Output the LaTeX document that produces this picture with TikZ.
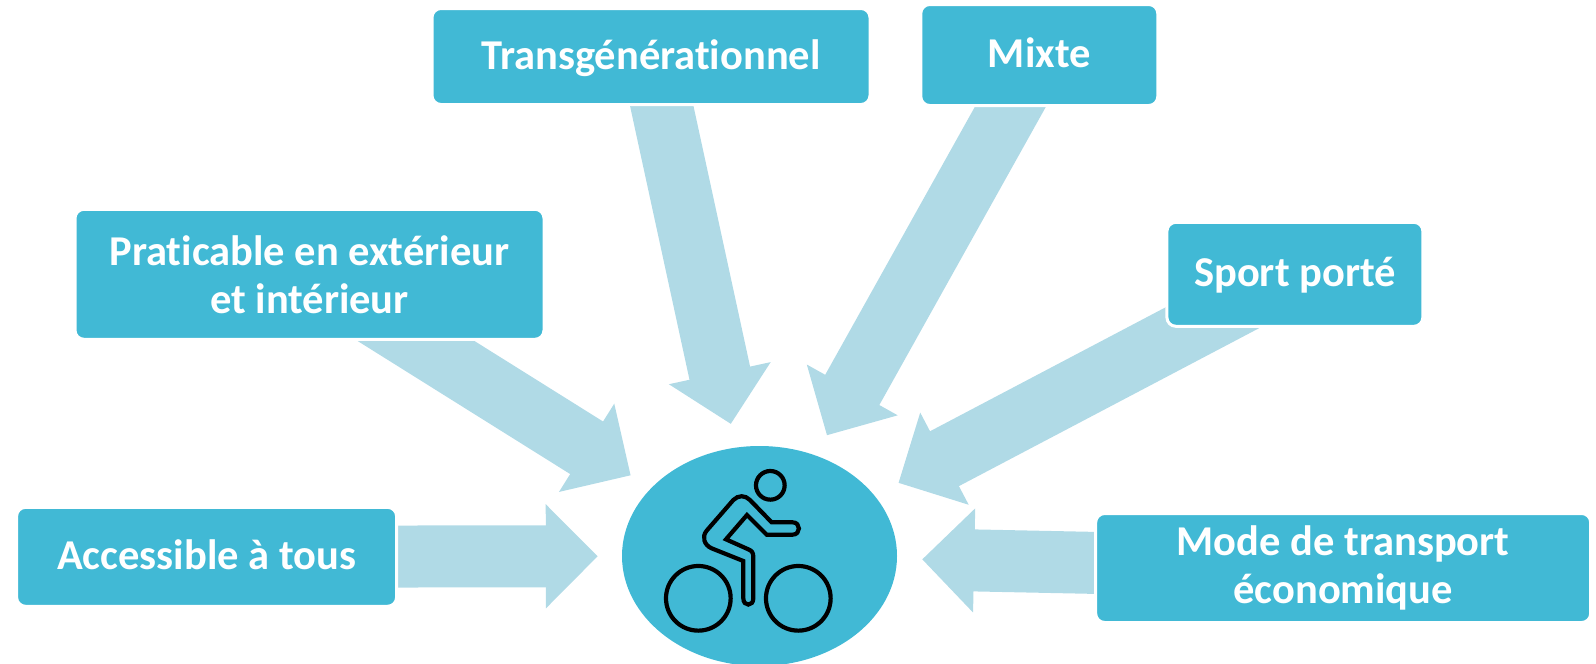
\documentclass[tikz,border=0pt]{standalone}
\usepackage{fontspec}
\setmainfont[Ligatures=NoCommon]{Carlito}
\usetikzlibrary{shapes.geometric,arrows.meta,backgrounds}

\definecolor{boxblau}{HTML}{41B9D5}
\definecolor{pfeilblau}{HTML}{B0DAE6}

\tikzset{
    kasten/.style={rectangle, rounded corners=9pt, fill=boxblau, draw=white, line width=3pt,
        text=white, align=center, inner sep=0pt, font=\bfseries\fontsize{42.5}{48}\selectfont},
    einzeilig/.style={kasten, text height=33pt, text depth=8pt},
    blockpfeil/.style={draw=pfeilblau, line width=62pt, shorten >=24pt,
        -{Triangle[length=52pt,width=101pt,fill=pfeilblau]}}
}

\begin{document}
\begin{tikzpicture}[x=1pt, y=-1pt]
    \useasboundingbox (0,0) rectangle (1596,664);

    % --- Mitte ---
    \node[ellipse, fill=boxblau, inner sep=0pt, minimum width=275pt, minimum height=220pt] (velo) at (759.5,556) {};

    % --- Kaesten ---
    \node[einzeilig, minimum width=438pt, minimum height=96pt] (trans) at (651,56.5) {Transgénérationnel};
    \node[einzeilig, minimum width=237pt, minimum height=101pt] (mixte) at (1039.3,55) {Mixte};
    \node[kasten, minimum width=469pt, minimum height=130pt] (prat) at (309.5,274.3) {Praticable en extérieur\\et intérieur};
    \node[einzeilig, minimum width=256pt, minimum height=104pt] (sport) at (1294.9,274.3) {Sport porté};
    \node[einzeilig, minimum width=380pt, minimum height=99pt] (acces) at (206.6,556.8) {Accessible à tous};
    \node[kasten, minimum width=495pt, minimum height=109pt] (mode) at (1343.2,568) {Mode de transport\\économique};

    % --- Pfeile (unter den Kaesten) ---
    \begin{scope}[on background layer]
        \draw[blockpfeil] (trans.center) -- (velo);
        \draw[blockpfeil, shorten >=23pt] (mixte.center) -- (velo);
        \draw[blockpfeil] (prat.center) -- (velo);
        \draw[blockpfeil, shorten >=27pt] (sport.center) -- (velo);
        \draw[blockpfeil] (acces.center) -- (velo);
        \draw[blockpfeil, shorten >=25pt] (mode.center) -- (velo);
    \end{scope}

    % --- Radfahrer ---
    \begin{scope}[xshift=600pt, yshift=-430pt, x=0.3333pt, y=-0.3333pt, line width=4.2pt, black]
        \draw (511,166) circle[radius=43];
        \draw (295,505) circle[radius=97];
        \draw (595,505) circle[radius=97];
        % Koerper
        \draw[line join=miter] (441,255) -- (500,314) -- (578,314)
            .. controls (603,314) and (603,277) .. (578,277)
            -- (515,277) -- (450,210)
            .. controls (435,195) and (415,195) .. (400,210)
            -- (320,302)
            .. controls (305,320) and (312,345) .. (335,355)
            -- (430,393) -- (430,505)
            .. controls (430,530) and (460,530) .. (460,505)
            -- (460,380)
            .. controls (460,368) and (455,362) .. (445,358)
            -- (378,328) -- cycle;
    \end{scope}
\end{tikzpicture}
\end{document}
